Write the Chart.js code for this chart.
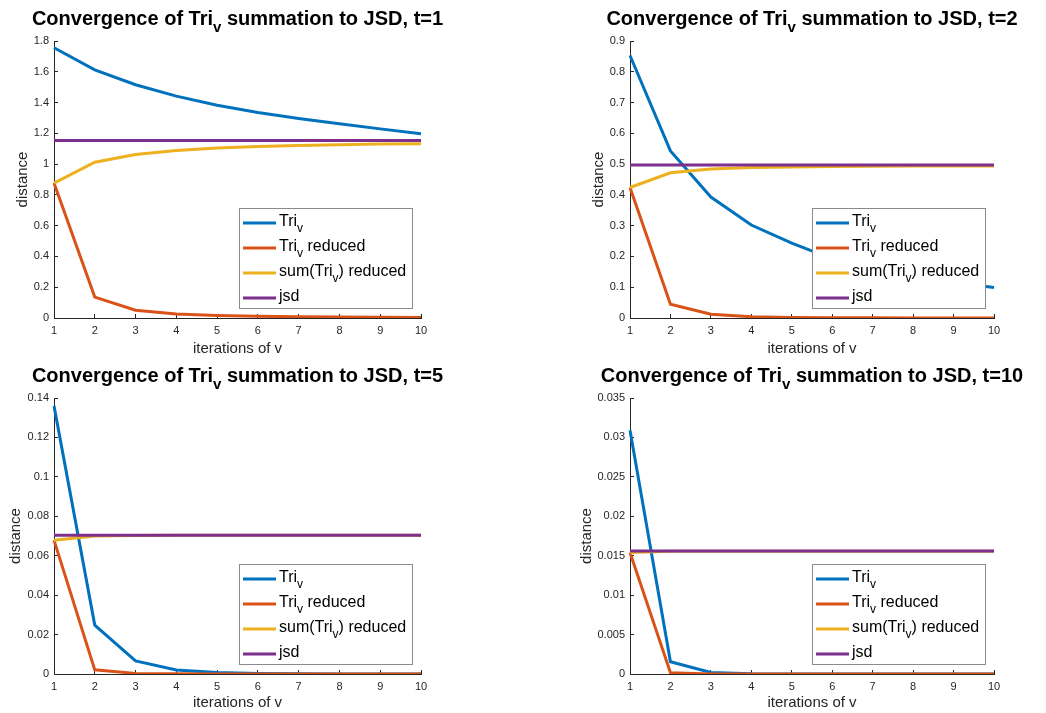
<!DOCTYPE html>
<html>
<head>
<meta charset="utf-8">
<title>Convergence of Tri_v summation to JSD</title>
<script src="https://cdn.jsdelivr.net/npm/chart.js@4.4.0/dist/chart.umd.min.js"></script>
<style>
  html, body { margin: 0; padding: 0; background: #fff; }
  #wrap { position: relative; width: 1046px; height: 713px; }
  .panel { position: absolute; }
  canvas { display: block; }
</style>
</head>
<body>
<div id="wrap">
  <div class="panel" style="left:0;top:0"><canvas id="c1" width="523" height="356"></canvas></div>
  <div class="panel" style="left:523px;top:0"><canvas id="c2" width="523" height="356"></canvas></div>
  <div class="panel" style="left:0;top:356px"><canvas id="c3" width="523" height="357"></canvas></div>
  <div class="panel" style="left:523px;top:356px"><canvas id="c4" width="523" height="357"></canvas></div>
</div>
<script>
// x axis: iterations of v
const iterations = ['1', '2', '3', '4', '5', '6', '7', '8', '9', '10'];
const tValues = [1, 2, 5, 10];
const seriesNames = ['Tri_v', 'Tri_v reduced', 'sum(Tri_v) reduced', 'jsd'];
const seriesColors = ['#0072BD', '#D95319', '#EDB120', '#7E2F8E'];

// t = 1
const triT1 = [1.756, 1.612, 1.516, 1.442, 1.382, 1.336, 1.297, 1.262, 1.229, 1.197];
const reducedT1 = [0.877, 0.136, 0.051, 0.026, 0.016, 0.011, 0.008, 0.006, 0.005, 0.004];
const sumT1 = [0.877, 1.012, 1.063, 1.089, 1.104, 1.114, 1.121, 1.126, 1.130, 1.132];
const jsdT1 = [1.154, 1.154, 1.154, 1.154, 1.154, 1.154, 1.154, 1.154, 1.154, 1.154];

// t = 2
const triT2 = [0.853, 0.543, 0.393, 0.302, 0.243, 0.192, 0.160, 0.135, 0.115, 0.099];
const reducedT2 = [0.424, 0.045, 0.012, 0.004, 0.002, 0.001, 0.0005, 0.0003, 0.0002, 0.0001];
const sumT2 = [0.424, 0.472, 0.484, 0.489, 0.491, 0.492, 0.493, 0.494, 0.494, 0.494];
const jsdT2 = [0.497, 0.497, 0.497, 0.497, 0.497, 0.497, 0.497, 0.497, 0.497, 0.497];

// t = 5
const triT5 = [0.136, 0.0248, 0.0066, 0.0020, 0.0007, 0.0003, 0.0001, 0.00005, 0.00002, 0.00001];
const reducedT5 = [0.0679, 0.0021, 0.0003, 0.0001, 0.00003, 0.00001, 0, 0, 0, 0];
const sumT5 = [0.0679, 0.0700, 0.0703, 0.0704, 0.0704, 0.0704, 0.0704, 0.0704, 0.0704, 0.0704];
const jsdT5 = [0.0704, 0.0704, 0.0704, 0.0704, 0.0704, 0.0704, 0.0704, 0.0704, 0.0704, 0.0704];

// t = 10
const triT10 = [0.0309, 0.00156, 0.0002, 0.00003, 0.00001, 0, 0, 0, 0, 0];
const reducedT10 = [0.0154, 0.00017, 0.00001, 0, 0, 0, 0, 0, 0, 0];
const sumT10 = [0.0154, 0.01557, 0.01558, 0.01558, 0.01558, 0.01558, 0.01558, 0.01558, 0.01558, 0.01558];
const jsdT10 = [0.0156, 0.0156, 0.0156, 0.0156, 0.0156, 0.0156, 0.0156, 0.0156, 0.0156, 0.0156];

// y axis tick range per panel
const yMaxes = [1.8, 0.9, 0.14, 0.035];
const ySteps = [0.2, 0.1, 0.02, 0.005];

const seriesByPanel = [
    [triT1, reducedT1, sumT1, jsdT1],
    [triT2, reducedT2, sumT2, jsdT2],
    [triT5, reducedT5, sumT5, jsdT5],
    [triT10, reducedT10, sumT10, jsdT10]
];

// placement of each panel's plot box inside its canvas
const panelLayout = [
    { id: 'c1', padLeft: 15, yWidth: 39, top: 41, xHeight: 38, titlePad: 0 },
    { id: 'c2', padLeft: 68, yWidth: 39, top: 41, xHeight: 38, titlePad: 0 },
    { id: 'c3', padLeft: 8, yWidth: 46, top: 42, xHeight: 39, titlePad: 2.5 },
    { id: 'c4', padLeft: 56, yWidth: 51, top: 42, xHeight: 39, titlePad: 2.5 }
];

const FONT = '"Liberation Sans", Arial, Helvetica, sans-serif';
const AXIS_COLOR = '#262626';

// split "Tri_v" style text into normal / subscript pieces
function texParts(str) {
    const parts = [];
    const re = /_(\w)/g;
    let last = 0, m;
    while ((m = re.exec(str))) {
        if (m.index > last) parts.push({ t: str.slice(last, m.index), sub: false });
        parts.push({ t: m[1], sub: true });
        last = re.lastIndex;
    }
    if (last < str.length) parts.push({ t: str.slice(last), sub: false });
    return parts;
}

function texFont(size, bold, sub) {
    return (bold ? 'bold ' : '') + (sub ? Math.round(size * 0.75) : size) + 'px ' + FONT;
}

function texWidth(ctx, str, size, bold) {
    let w = 0;
    texParts(str).forEach(p => {
        ctx.font = texFont(size, bold, p.sub);
        w += ctx.measureText(p.t).width;
    });
    return w;
}

function drawTex(ctx, str, x, y, size, bold, color) {
    ctx.fillStyle = color;
    ctx.textAlign = 'left';
    ctx.textBaseline = 'alphabetic';
    texParts(str).forEach(p => {
        ctx.font = texFont(size, bold, p.sub);
        ctx.fillText(p.t, x, p.sub ? y + size * 0.35 : y);
        x += ctx.measureText(p.t).width;
    });
}

// title and legend with subscripts, drawn on top of the chart
const texPlugin = {
    id: 'texText',
    afterDraw(chart, args, opts) {
        const ctx = chart.ctx;
        const area = chart.chartArea;
        ctx.save();

        // title
        const tw = texWidth(ctx, opts.title, 20, true);
        drawTex(ctx, opts.title, (area.left + area.right) / 2 - tw / 2, area.top - 16, 20, true, '#000');

        // legend box, bottom right inside the axes
        const sets = chart.data.datasets;
        let maxW = 0;
        sets.forEach(ds => { maxW = Math.max(maxW, texWidth(ctx, ds.label, 16, false)); });
        const boxW = Math.round(4 + 33 + 3 + maxW + 6);
        const boxH = 100;
        const x0 = Math.round(area.right - 9 - boxW);
        const y0 = Math.round(area.bottom - 10 - boxH);
        ctx.fillStyle = '#fff';
        ctx.fillRect(x0, y0, boxW, boxH);
        ctx.strokeStyle = '#8a8a8a';
        ctx.lineWidth = 1;
        ctx.strokeRect(x0 + 0.5, y0 + 0.5, boxW, boxH);

        sets.forEach((ds, i) => {
            const ly = y0 + 15 + i * 25;
            ctx.strokeStyle = ds.borderColor;
            ctx.lineWidth = 3;
            ctx.beginPath();
            ctx.moveTo(x0 + 4, ly);
            ctx.lineTo(x0 + 37, ly);
            ctx.stroke();
            drawTex(ctx, ds.label, x0 + 40, ly + 3, 16, false, '#000');
        });
        ctx.restore();
    }
};

function tickText(v) {
    return String(+Number(v).toFixed(5));
}

panelLayout.forEach((lay, p) => {
    const canvas = document.getElementById(lay.id);
    new Chart(canvas.getContext('2d'), {
        type: 'line',
        data: {
            labels: iterations,
            datasets: seriesByPanel[p].map((vals, i) => ({
                label: seriesNames[i],
                data: vals,
                borderColor: seriesColors[i],
                backgroundColor: seriesColors[i],
                borderWidth: 3,
                pointRadius: 0,
                tension: 0,
                fill: false,
                order: 4 - i // jsd drawn on top
            }))
        },
        options: {
            responsive: false,
            animation: false,
            layout: {
                padding: { left: lay.padLeft, top: lay.top, right: canvas.width - (lay.padLeft + lay.yWidth + (p % 2 === 0 ? 367 : 364)), bottom: 0 }
            },
            scales: {
                x: {
                    type: 'category',
                    offset: false,
                    afterFit: s => { s.height = lay.xHeight; },
                    grid: { drawOnChartArea: false, drawTicks: true, tickLength: -4, color: AXIS_COLOR },
                    border: { display: true, color: AXIS_COLOR, width: 1 },
                    ticks: { color: AXIS_COLOR, font: { family: FONT, size: 11 }, padding: 10, maxRotation: 0, autoSkip: false },
                    title: {
                        display: true,
                        text: 'iterations of v',
                        color: AXIS_COLOR,
                        font: { family: FONT, size: 15, lineHeight: 1 },
                        padding: { top: 0, bottom: lay.titlePad }
                    }
                },
                y: {
                    min: 0,
                    max: yMaxes[p],
                    afterFit: s => { s.width = lay.yWidth; },
                    grid: { drawOnChartArea: false, drawTicks: true, tickLength: -4, color: AXIS_COLOR },
                    border: { display: true, color: AXIS_COLOR, width: 1 },
                    ticks: {
                        stepSize: ySteps[p],
                        color: AXIS_COLOR,
                        font: { family: FONT, size: 11 },
                        padding: 9,
                        callback: tickText
                    },
                    title: {
                        display: true,
                        text: 'distance',
                        color: AXIS_COLOR,
                        font: { family: FONT, size: 15, lineHeight: 1 },
                        padding: { top: 0, bottom: 0 }
                    }
                }
            },
            plugins: {
                legend: { display: false },
                title: { display: false },
                tooltip: { enabled: false },
                texText: { title: 'Convergence of Tri_v summation to JSD, t=' + tValues[p] }
            }
        },
        plugins: [texPlugin]
    });
});
</script>
</body>
</html>
